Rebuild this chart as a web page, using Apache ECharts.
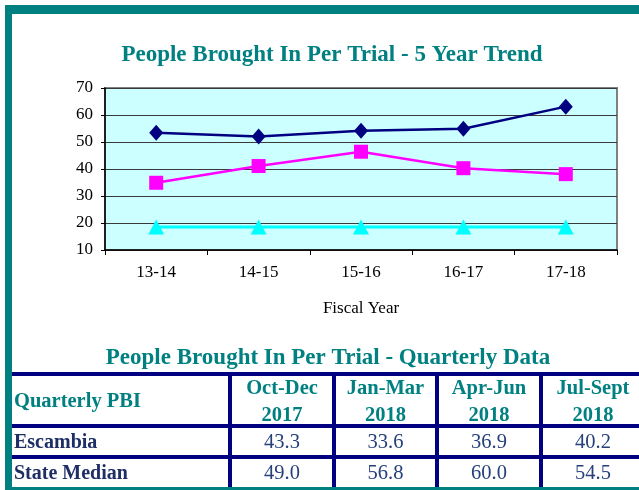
<!DOCTYPE html>
<html>
<head>
<meta charset="utf-8">
<script src="https://cdn.jsdelivr.net/npm/echarts@6/dist/echarts.min.js"></script>
<style>
  html, body { margin: 0; padding: 0; background: #fff; }
  #main { width: 639px; height: 490px; }
</style>
</head>
<body>
<div id="main"></div>
<script>
// data
const fiscalYears = ['13-14', '14-15', '15-16', '16-17', '17-18'];
const stateMedianTrend = [53.4, 52.0, 54.2, 54.9, 63.1];
const escambiaTrend = [34.9, 41.1, 46.4, 40.3, 38.1];
const thirdTrend = [18.5, 18.5, 18.5, 18.5, 18.5];

const tableTitle = 'People Brought In Per Trial - Quarterly Data';
const rowHeader = 'Quarterly PBI';
const quarterHeaders = ['Oct-Dec\n2017', 'Jan-Mar\n2018', 'Apr-Jun\n2018', 'Jul-Sept\n2018'];
const rowLabels = ['Escambia', 'State Median'];
const escambiaQuarterly = [43.3, 33.6, 36.9, 40.2];
const stateMedianQuarterly = [49.0, 56.8, 60.0, 54.5];

const TEAL = '#008080';
const NAVY = '#000080';
const SERIF = '"Liberation Serif", "Times New Roman", serif';

const chart = echarts.init(document.getElementById('main'), null, { renderer: 'canvas' });

// table layout
const colX = [12, 230, 334, 437, 541, 645]; // column borders
const rowY = [374, 426, 457, 488];          // row borders

function buildTable() {
  const g = [];
  // frame
  g.push({ type: 'rect', shape: { x: 5, y: 5, width: 640, height: 9 }, style: { fill: TEAL }, z: 10 });
  g.push({ type: 'rect', shape: { x: 5, y: 5, width: 7, height: 485 }, style: { fill: TEAL }, z: 10 });
  g.push({ type: 'rect', shape: { x: 5, y: 487, width: 640, height: 4 }, style: { fill: TEAL }, z: 10 });

  // horizontal lines
  rowY.slice(0, 3).forEach((y) => {
    g.push({ type: 'rect', shape: { x: colX[0], y: y - 2, width: 640, height: 4 }, style: { fill: NAVY }, z: 5 });
  });
  // vertical lines
  colX.slice(1, 5).forEach((x) => {
    g.push({ type: 'rect', shape: { x: x - 2, y: rowY[0], width: 4, height: rowY[3] - rowY[0] }, style: { fill: NAVY }, z: 5 });
  });

  g.push({
    type: 'text', z: 6,
    style: {
      text: tableTitle, x: 328, y: 358, align: 'center', verticalAlign: 'middle',
      font: `bold 23px ${SERIF}`, fill: TEAL,
    },
  });
  g.push({
    type: 'text', z: 6,
    style: {
      text: rowHeader, x: 14, y: 402, align: 'left', verticalAlign: 'middle',
      font: `bold 20.5px ${SERIF}`, fill: TEAL,
    },
  });
  quarterHeaders.forEach((h, i) => {
    g.push({
      type: 'text', z: 6,
      style: {
        text: h, x: i === 3 ? 593 : (colX[i + 1] + colX[i + 2]) / 2, y: 402,
        align: 'center', verticalAlign: 'middle', lineHeight: 27,
        font: `bold 20.5px ${SERIF}`, fill: TEAL,
      },
    });
  });
  const rows = [escambiaQuarterly, stateMedianQuarterly];
  rows.forEach((vals, r) => {
    const cy = (rowY[r + 1] + rowY[r + 2]) / 2 + 1;
    g.push({
      type: 'text', z: 6,
      style: {
        text: rowLabels[r], x: 14, y: cy, align: 'left', verticalAlign: 'middle',
        font: `bold 20px ${SERIF}`, fill: '#1f2f66',
      },
    });
    vals.forEach((v, i) => {
      g.push({
        type: 'text', z: 6,
        style: {
          text: v.toFixed(1), x: i === 3 ? 593 : (colX[i + 1] + colX[i + 2]) / 2, y: cy,
          align: 'center', verticalAlign: 'middle',
          font: `20.5px ${SERIF}`, fill: '#26407a',
        },
      });
    });
  });
  return g;
}

const option = {
  backgroundColor: '#fff',
  animation: false,
  title: {
    text: 'People Brought In Per Trial - 5 Year Trend',
    left: 327,
    textAlign: 'center',
    top: 39,
    textStyle: { fontFamily: SERIF, fontWeight: 'bold', fontSize: 23, color: TEAL },
  },
  grid: {
    left: 105, top: 88, width: 512, height: 162,
    show: true, backgroundColor: '#CCFFFF', borderColor: '#808080', borderWidth: 2,
    containLabel: false,
  },
  xAxis: {
    type: 'category',
    data: fiscalYears,
    boundaryGap: true,
    name: 'Fiscal Year',
    nameLocation: 'middle',
    nameGap: 50,
    nameTextStyle: { fontFamily: SERIF, fontSize: 17, color: '#000' },
    axisLine: { show: true, lineStyle: { color: '#000', width: 1.5 } },
    axisTick: { show: true, length: 5, alignWithLabel: false, lineStyle: { color: '#000' } },
    axisLabel: { margin: 14, fontFamily: SERIF, fontSize: 17, color: '#000' },
    splitLine: { show: false },
  },
  yAxis: {
    type: 'value',
    min: 10, max: 70, interval: 10,
    axisLine: { show: true, lineStyle: { color: '#000', width: 1.5 } },
    axisTick: { show: true, length: 4, lineStyle: { color: '#000' } },
    axisLabel: { margin: 12, fontFamily: SERIF, fontSize: 17, color: '#000' },
    splitLine: { show: true, lineStyle: { color: '#3a3a3a', width: 1 } },
  },
  series: [
    {
      name: 'State Median', type: 'line', data: stateMedianTrend,
      symbol: 'diamond', symbolSize: [14, 16],
      lineStyle: { color: NAVY, width: 2.5 }, itemStyle: { color: NAVY },
    },
    {
      name: 'Escambia', type: 'line', data: escambiaTrend,
      symbol: 'rect', symbolSize: 14,
      lineStyle: { color: '#FF00FF', width: 2.5 }, itemStyle: { color: '#FF00FF' },
    },
    {
      name: 'Series 3', type: 'line', data: thirdTrend,
      symbol: 'triangle', symbolSize: [16, 15],
      lineStyle: { color: '#00FFFF', width: 3 }, itemStyle: { color: '#00FFFF' },
    },
  ],
  graphic: buildTable(),
};

chart.setOption(option);
</script>
</body>
</html>
